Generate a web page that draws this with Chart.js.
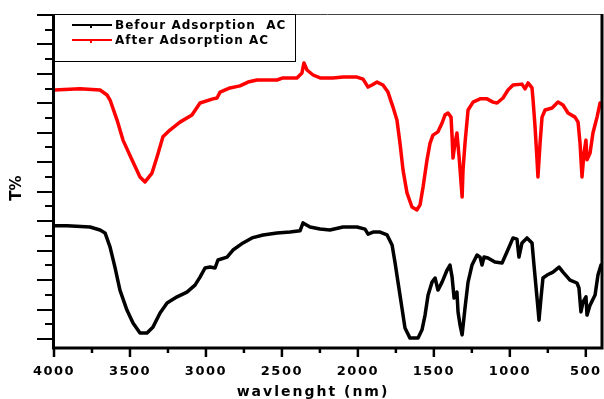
<!DOCTYPE html>
<html>
<head>
<meta charset="utf-8">
<script src="https://cdn.jsdelivr.net/npm/chart.js@4.4.1/dist/chart.umd.min.js"></script>
<style>
    html, body { margin: 0; padding: 0; background: #fff; }
    #wrap { width: 604px; height: 399px; }
</style>
</head>
<body>
<div id="wrap"><canvas id="ftirChart" width="604" height="399"></canvas></div>
<script>
// wavenumber (cm-1) and transmittance
const beforeWave = [4000, 3914, 3763, 3697, 3664, 3631, 3599, 3566, 3520, 3480, 3434, 3388, 3348, 3302, 3256, 3190, 3125, 3072, 3039, 3006,
    2973, 2940, 2921, 2861, 2822, 2756, 2697, 2624, 2532, 2447, 2381, 2361, 2315, 2249, 2184, 2098, 2006, 1953, 1933, 1900,
    1854, 1808, 1775, 1756, 1736, 1710, 1690, 1657, 1604, 1578, 1558, 1538, 1512, 1492, 1473, 1446, 1413, 1394, 1380, 1367,
    1348, 1341, 1328, 1314, 1295, 1275, 1249, 1216, 1196, 1183, 1170, 1144, 1098, 1051, 1019, 979, 953, 940, 920, 887,
    854, 841, 821, 808, 795, 782, 755, 716, 676, 650, 604, 558, 545, 532, 518, 499, 492, 472, 439, 420, 400];
const beforeT = [38.4, 38.4, 38.0, 37.0, 36.0, 31.2, 24.4, 16.6, 9.8, 5.4, 2.0, 2.0, 4.1, 8.8, 12.2, 14.3, 15.9, 18.3, 21.0, 24.1,
    24.4, 24.1, 26.8, 27.8, 30.2, 32.6, 34.3, 35.3, 36.0, 36.3, 36.7, 39.4, 38.0, 37.3, 37.0, 38.0, 38.0, 37.3, 35.6, 36.3,
    36.3, 35.3, 31.9, 26.1, 19.3, 10.5, 3.7, 0.3, 0.3, 3.1, 8.1, 14.9, 19.3, 20.7, 16.6, 19.3, 23.4, 25.1, 21.0, 13.9,
    15.9, 9.2, 4.8, 1.4, 10.5, 19.3, 25.1, 28.5, 27.8, 25.1, 27.8, 27.5, 26.1, 25.8, 29.5, 34.3, 33.9, 27.8, 32.6, 34.3,
    32.6, 25.1, 13.9, 6.4, 13.9, 20.7, 21.7, 22.7, 24.4, 22.7, 20.0, 19.0, 17.3, 9.2, 12.6, 14.3, 8.1, 11.5, 14.9, 21.7, 25.1];

const afterWave = [4000, 3829, 3697, 3651, 3631, 3585, 3546, 3487, 3434, 3401, 3355, 3322, 3283, 3237, 3171, 3092, 3039, 2954, 2927, 2907,
    2842, 2776, 2723, 2664, 2598, 2532, 2493, 2401, 2368, 2355, 2335, 2295, 2249, 2164, 2098, 2006, 1966, 1933, 1907, 1874,
    1835, 1802, 1769, 1743, 1723, 1703, 1677, 1644, 1611, 1591, 1571, 1545, 1525, 1506, 1473, 1446, 1427, 1407, 1387, 1380,
    1374, 1361, 1348, 1334, 1314, 1308, 1295, 1275, 1242, 1196, 1150, 1111, 1084, 1045, 1012, 979, 920, 900, 880, 854,
    847, 834, 821, 815, 801, 788, 768, 722, 683, 650, 617, 571, 551, 538, 525, 512, 499, 492, 472, 453, 426, 406];
const afterT = [84.5, 84.9, 84.5, 82.8, 81.1, 74.3, 67.5, 60.8, 55.0, 53.3, 56.3, 61.8, 68.6, 70.9, 73.6, 76.0, 80.1, 81.5, 81.8, 83.8,
    85.2, 85.9, 87.2, 87.9, 87.9, 87.9, 88.6, 88.6, 90.3, 93.7, 91.3, 89.6, 88.6, 88.6, 88.9, 88.9, 88.2, 85.5, 86.2, 87.2,
    86.2, 83.8, 78.7, 74.3, 66.5, 57.4, 49.6, 44.8, 43.8, 45.5, 51.6, 60.8, 66.5, 69.2, 70.3, 73.3, 76.0, 76.7, 75.3, 68.6,
    61.4, 66.5, 69.9, 61.8, 48.2, 57.4, 66.5, 77.7, 80.4, 81.5, 81.5, 80.4, 80.1, 81.8, 84.5, 86.2, 86.5, 84.9, 86.9, 85.2,
    81.1, 72.0, 60.8, 55.0, 66.5, 75.3, 77.7, 78.4, 80.4, 79.4, 76.7, 75.3, 73.6, 66.5, 55.0, 63.1, 67.5, 60.8, 63.1, 69.9, 75.3, 80.1];

const seriesLabels = ['Befour Adsorption  AC', 'After Adsorption AC'];
const seriesColors = ['#000000', '#ff0000'];

const xTickLabels = [4000, 3500, 3000, 2500, 2000, 1500, 1000, 500];
const xMinorTicks = [3750, 3250, 2750, 2250, 1750, 1250, 750];
const yTicks = [0, 5, 10, 15, 20, 25, 30, 35, 40, 45, 50, 55, 60, 65, 70, 75, 80, 85, 90, 95, 100, 105, 110];

const FONT = '"DejaVu Sans", Verdana, sans-serif';

function toPoints(xs, ys) {
    return xs.map((x, i) => ({ x: x, y: ys[i] }));
}

// frame, tick marks, legend box and axis titles
const decorPlugin = {
    id: 'decor',
    beforeDraw(chart) {
        chart.ctx.letterSpacing = '1.5px';
    },
    afterDraw(chart) {
        const ctx = chart.ctx;
        const area = chart.chartArea;
        const xs = chart.scales.x;
        const ys = chart.scales.y;
        ctx.save();
        ctx.letterSpacing = '0px';
        ctx.strokeStyle = '#000';
        ctx.lineCap = 'butt';

        // y tick marks, long every second one
        ctx.lineWidth = 2;
        yTicks.forEach((v, i) => {
            const py = Math.round(ys.getPixelForValue(v));
            const len = i % 2 === 0 ? 17 : 9;
            ctx.beginPath();
            ctx.moveTo(area.left - len, py);
            ctx.lineTo(area.left, py);
            ctx.stroke();
        });

        // x tick marks
        ctx.lineWidth = 2.5;
        xTickLabels.forEach(v => {
            const px = xs.getPixelForValue(v);
            ctx.beginPath();
            ctx.moveTo(px, area.bottom);
            ctx.lineTo(px, area.bottom + 10);
            ctx.stroke();
        });
        xMinorTicks.forEach(v => {
            const px = xs.getPixelForValue(v);
            ctx.beginPath();
            ctx.moveTo(px, area.bottom);
            ctx.lineTo(px, area.bottom + 6);
            ctx.stroke();
        });

        // frame
        ctx.strokeStyle = '#444';
        ctx.lineWidth = 1;
        ctx.beginPath();
        ctx.moveTo(area.left, area.top + 0.5);
        ctx.lineTo(area.right, area.top + 0.5);
        ctx.stroke();
        ctx.strokeStyle = '#000';
        ctx.lineWidth = 3;
        ctx.beginPath();
        ctx.moveTo(area.left - 0.5, area.top);
        ctx.lineTo(area.left - 0.5, area.bottom + 1);
        ctx.lineTo(area.right + 1, area.bottom + 1);
        ctx.lineTo(area.right + 1, area.top);
        ctx.stroke();

        // legend
        ctx.lineWidth = 1;
        ctx.strokeRect(area.left + 0.5, area.top + 0.5, 241, 47);
        chart.data.datasets.forEach((ds, i) => {
            const y = area.top + 11 + i * 15;
            ctx.strokeStyle = ds.borderColor;
            ctx.lineWidth = 2;
            ctx.beginPath();
            ctx.moveTo(area.left + 18, y);
            ctx.lineTo(area.left + 58, y);
            ctx.stroke();
            ctx.fillStyle = ds.borderColor;
            ctx.fillRect(area.left + 36, y, 2, 3);
            ctx.fillStyle = '#000';
            ctx.font = 'bold 12px ' + FONT;
            ctx.letterSpacing = '1px';
            ctx.textAlign = 'left';
            ctx.textBaseline = 'middle';
            ctx.fillText(ds.label, area.left + 61, y + 1);
        });

        // axis titles
        ctx.fillStyle = '#000';
        ctx.font = 'bold 14px ' + FONT;
        ctx.letterSpacing = '2px';
        ctx.textAlign = 'center';
        ctx.textBaseline = 'middle';
        ctx.fillText('wavlenght (nm)', 313, 392);

        ctx.letterSpacing = '0px';
        ctx.translate(17, 188);
        ctx.rotate(-Math.PI / 2);
        ctx.font = 'bold 15px ' + FONT;
        ctx.fillText('T%', 0, 0);
        ctx.restore();
    }
};

const ctx = document.getElementById('ftirChart').getContext('2d');
new Chart(ctx, {
    type: 'line',
    data: {
        datasets: [
            {
                label: seriesLabels[0],
                data: toPoints(beforeWave, beforeT),
                borderColor: seriesColors[0],
                borderWidth: 3.5,
                pointRadius: 0,
                tension: 0
            },
            {
                label: seriesLabels[1],
                data: toPoints(afterWave, afterT),
                borderColor: seriesColors[1],
                borderWidth: 3.5,
                pointRadius: 0,
                tension: 0
            }
        ]
    },
    options: {
        responsive: false,
        animation: false,
        devicePixelRatio: 1,
        layout: { padding: { top: 14, right: 3, left: 0, bottom: 0 } },
        plugins: {
            legend: { display: false },
            tooltip: { enabled: false }
        },
        elements: { line: { borderJoinStyle: 'round', borderCapStyle: 'round' } },
        scales: {
            x: {
                type: 'linear',
                reverse: true,
                min: 400,
                max: 4000,
                grid: { display: false, drawTicks: false },
                border: { display: false },
                afterBuildTicks: scale => {
                    scale.ticks = xTickLabels.map(v => ({ value: v }));
                },
                afterFit: scale => {
                    scale.height = 52;
                    scale.paddingLeft = 0;
                    scale.paddingRight = 0;
                },
                ticks: {
                    autoSkip: false,
                    maxRotation: 0,
                    padding: 17,
                    color: '#000',
                    font: { family: FONT, size: 13, weight: 'bold' },
                    callback: v => String(v)
                }
            },
            y: {
                min: -2.72,
                max: 110.3,
                grid: { display: false, drawTicks: false },
                border: { display: false },
                afterBuildTicks: scale => {
                    scale.ticks = yTicks.map(v => ({ value: v }));
                },
                afterFit: scale => {
                    scale.width = 54;
                    scale.paddingTop = 0;
                    scale.paddingBottom = 0;
                },
                ticks: { display: false }
            }
        }
    },
    plugins: [decorPlugin]
});
</script>
</body>
</html>
